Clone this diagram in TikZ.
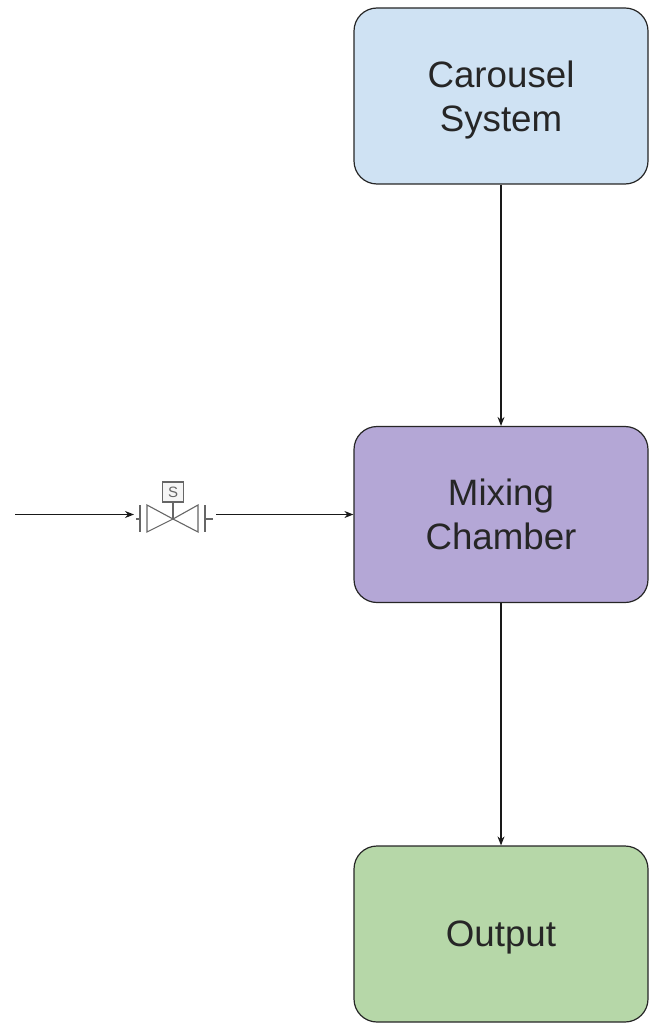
\documentclass[tikz,border=0pt]{standalone}
\usepackage{fontspec}
\setmainfont{Liberation Sans}
\usetikzlibrary{arrows.meta}
\definecolor{carouselblue}{HTML}{CFE2F3}
\definecolor{mixingpurple}{HTML}{B4A7D6}
\definecolor{outputgreen}{HTML}{B6D7A8}
\definecolor{valvegray}{HTML}{666666}
\tikzset{
  block/.style={draw=black!85,line width=1.2pt,rounded corners=23pt,minimum width=294pt,minimum height=176pt,
    align=center,font=\fontsize{36.7}{44}\selectfont,text=black!85,text depth=0pt},
  flow/.style={draw=black!90,line width=1.1pt,-{Stealth[length=9pt,width=7pt]}},
  valveline/.style={draw=valvegray,line width=1.1pt,line join=miter}
}
\begin{document}
\begin{tikzpicture}[x=1pt,y=-1pt]
                \useasboundingbox (0,0) rectangle (651,1024);
                \path (501,96) node[block,fill=carouselblue] (carousel) {Carousel\\System};
                \path (501,514.5) node[block,fill=mixingpurple] (mixing) {Mixing\\Chamber};
                \path (501,934) node[block,fill=outputgreen] (output) {Output};

                % valve
                \coordinate (inlet) at (15,514.5);
                \coordinate (valveL) at (134,514.5);
                \coordinate (valveR) at (216,514.5);
                \coordinate (valveC) at (173,519);
                \path (173,492) node[draw=valvegray,line width=1.1pt,fill=black!4,minimum width=21pt,minimum height=20pt,inner sep=0pt,
                  text=valvegray,font=\fontsize{15}{15}\selectfont] (solenoid) {S};
                \draw[valveline] (solenoid.south) -- (valveC);
                \draw[valveline] (valveC) -- (147,505) -- (147,532) -- cycle;
                \draw[valveline] (valveC) -- (198,505) -- (198,532) -- cycle;
                \draw[valveline] (140,505) -- (140,532) (136,519) -- (140,519);
                \draw[valveline] (205,505) -- (205,532) (205,519) -- (213,519);

                \draw[flow] (carousel) -- (mixing);
                \draw[flow] (mixing) -- (output);
                \draw[flow] (inlet) -- (valveL);
                \draw[flow] (valveR) -- (mixing.west);
              \end{tikzpicture}
\end{document}
